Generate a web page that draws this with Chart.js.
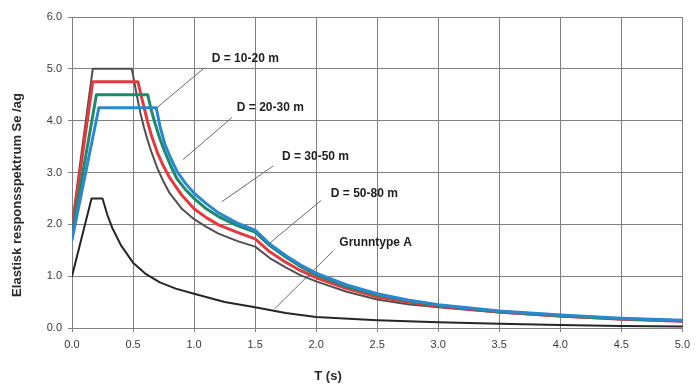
<!DOCTYPE html>
<html>
<head>
<meta charset="utf-8">
<script src="https://cdn.jsdelivr.net/npm/chart.js@4/dist/chart.umd.min.js"></script>
<style>
  html, body { margin: 0; padding: 0; background: #ffffff; }
  #wrap { width: 696px; height: 386px; position: relative; }
</style>
</head>
<body>
<div id="wrap"><canvas id="c" width="696" height="386"></canvas></div>
<script>
// ---- Data (period T in s, spectral value Se/ag) ----
const tBlue   = [0, 0.22, 0.69, 0.72, 0.76, 0.81, 0.86, 0.93, 1.0, 1.1, 1.2, 1.35, 1.5, 1.62, 1.75, 1.87, 2.0, 2.25, 2.5, 2.75, 3.0, 3.5, 4.0, 4.5, 5.0];
const seBlue  = [1.7, 4.25, 4.25, 3.9, 3.55, 3.27, 3.02, 2.79, 2.6, 2.4, 2.22, 2.03, 1.89, 1.62, 1.4, 1.22, 1.06, 0.83, 0.66, 0.54, 0.45, 0.33, 0.25, 0.19, 0.15];

const tGreen  = [0, 0.2, 0.62, 0.65, 0.68, 0.72, 0.76, 0.81, 0.86, 0.93, 1.0, 1.1, 1.2, 1.35, 1.5, 1.62, 1.75, 1.87, 2.0, 2.25, 2.5, 2.75, 3.0, 3.5, 4.0, 4.5, 5.0];
const seGreen = [1.8, 4.5, 4.5, 4.2, 3.95, 3.65, 3.4, 3.12, 2.88, 2.67, 2.5, 2.3, 2.15, 1.98, 1.85, 1.59, 1.37, 1.19, 1.03, 0.8, 0.64, 0.53, 0.44, 0.32, 0.24, 0.18, 0.14];

const tRed    = [0, 0.17, 0.54, 0.565, 0.59, 0.62, 0.65, 0.7, 0.75, 0.8, 0.9, 1.0, 1.1, 1.2, 1.35, 1.5, 1.62, 1.75, 1.87, 2.0, 2.25, 2.5, 2.75, 3.0, 3.5, 4.0, 4.5, 5.0];
const seRed   = [1.9, 4.75, 4.75, 4.5, 4.26, 3.97, 3.72, 3.38, 3.12, 2.9, 2.56, 2.3, 2.13, 1.99, 1.85, 1.72, 1.47, 1.27, 1.11, 0.97, 0.76, 0.6, 0.5, 0.42, 0.31, 0.23, 0.17, 0.13];

const tGray   = [0, 0.17, 0.49, 0.51, 0.53, 0.56, 0.59, 0.62, 0.65, 0.7, 0.75, 0.8, 0.9, 1.0, 1.1, 1.2, 1.35, 1.5, 1.62, 1.75, 1.87, 2.0, 2.25, 2.5, 2.75, 3.0, 3.5, 4.0, 4.5, 5.0];
const seGray  = [2.0, 5.0, 5.0, 4.75, 4.5, 4.15, 3.87, 3.62, 3.4, 3.08, 2.82, 2.6, 2.3, 2.1, 1.95, 1.82, 1.68, 1.57, 1.35, 1.17, 1.02, 0.9, 0.7, 0.55, 0.46, 0.4, 0.3, 0.22, 0.17, 0.13];

const tA      = [0, 0.16, 0.25, 0.29, 0.33, 0.4, 0.5, 0.6, 0.72, 0.85, 1.0, 1.25, 1.5, 1.75, 2.0, 2.5, 3.0, 3.5, 4.0, 4.5, 5.0];
const seA     = [1.0, 2.5, 2.5, 2.18, 1.93, 1.6, 1.26, 1.05, 0.88, 0.76, 0.66, 0.5, 0.4, 0.29, 0.21, 0.15, 0.11, 0.08, 0.06, 0.04, 0.03];

const xTickValues = [0, 0.5, 1, 1.5, 2, 2.5, 3, 3.5, 4, 4.5, 5];
const yTickValues = [0, 1, 2, 3, 4, 5, 6];

const xTitle = 'T (s)';
const yTitle = 'Elastisk responsspektrum Se /ag';

// Annotation labels: text, anchor (T, Se) of text, leader start and end (T, Se)
const labelTexts  = ["D = 10-20 m", "D = 20-30 m", "D = 30-50 m", "D = 50-80 m", "Grunntype A"];
const labelPos    = [[1.145, 5.2], [1.35, 4.26], [1.72, 3.31], [2.12, 2.59], [2.19, 1.64]];
const leaderFrom  = [[1.08, 5.01], [1.31, 4.06], [1.65, 3.13], [2.04, 2.46], [2.14, 1.49]];
const leaderTo    = [[0.69, 4.24], [0.91, 3.25], [1.23, 2.44], [1.61, 1.62], [1.66, 0.37]];

const toXY = (ts, vs) => ts.map((t, i) => ({ x: t, y: vs[i] }));
const FONT = '"Liberation Sans", Arial, sans-serif';

const annot = {
  id: 'annot',
  afterDatasetsDraw(chart) {
    const { ctx, scales: { x, y } } = chart;
    ctx.save();
    ctx.lineWidth = 1;
    ctx.strokeStyle = '#6a6a6a';
    for (let i = 0; i < leaderFrom.length; i++) {
      ctx.beginPath();
      ctx.moveTo(x.getPixelForValue(leaderFrom[i][0]), y.getPixelForValue(leaderFrom[i][1]));
      ctx.lineTo(x.getPixelForValue(leaderTo[i][0]), y.getPixelForValue(leaderTo[i][1]));
      ctx.stroke();
    }
    ctx.fillStyle = '#1e1e1e';
    ctx.font = 'bold 12px ' + FONT;
    ctx.textBaseline = 'middle';
    ctx.textAlign = 'left';
    for (let i = 0; i < labelTexts.length; i++) {
      ctx.fillText(labelTexts[i], x.getPixelForValue(labelPos[i][0]), y.getPixelForValue(labelPos[i][1]));
    }
    // axis titles
    ctx.fillStyle = '#2a2a2a';
    ctx.font = 'bold 13px ' + FONT;
    ctx.textAlign = 'center';
    ctx.fillText(xTitle, 328, 376);
    ctx.translate(17, 195);
    ctx.rotate(-Math.PI / 2);
    ctx.fillText(yTitle, 0, 0);
    ctx.restore();
  }
};

const whiteBg = {
  id: 'whiteBg',
  beforeDraw(chart) {
    const ctx = chart.ctx;
    ctx.save();
    ctx.fillStyle = '#ffffff';
    ctx.fillRect(0, 0, chart.width, chart.height);
    ctx.restore();
  }
};

new Chart(document.getElementById('c'), {
  type: 'line',
  data: {
    datasets: [
      { label: 'D = 50-80 m', data: toXY(tBlue, seBlue), borderColor: '#2a88d0', borderWidth: 3 },
      { label: 'D = 30-50 m', data: toXY(tGreen, seGreen), borderColor: '#1c8a6c', borderWidth: 3 },
      { label: 'D = 20-30 m', data: toXY(tRed, seRed), borderColor: '#e6393f', borderWidth: 3 },
      { label: 'D = 10-20 m', data: toXY(tGray, seGray), borderColor: '#505050', borderWidth: 2 },
      { label: 'Grunntype A', data: toXY(tA, seA), borderColor: '#262626', borderWidth: 2 }
    ]
  },
  options: {
    responsive: false,
    animation: false,
    devicePixelRatio: 1,
    layout: { padding: { top: 17, right: 10, left: 0, bottom: 0 } },
    elements: { point: { radius: 0 }, line: { tension: 0, borderJoinStyle: 'round', borderCapStyle: 'round' } },
    plugins: { legend: { display: false }, tooltip: { enabled: false } },
    scales: {
      x: {
        type: 'linear', min: 0, max: 5,
        afterFit: s => { s.height = 58; },
        afterBuildTicks: s => { s.ticks = xTickValues.map(v => ({ value: v })); },
        ticks: { callback: v => v.toFixed(1), color: '#3a3a3a', font: { size: 11, family: FONT }, padding: 6, maxRotation: 0 },
        grid: { color: '#808080', lineWidth: 1, tickLength: 4 },
        border: { color: '#808080' }
      },
      y: {
        type: 'linear', min: 0, max: 6,
        afterFit: s => { s.width = 72; },
        afterBuildTicks: s => { s.ticks = yTickValues.map(v => ({ value: v })); },
        ticks: { callback: v => v.toFixed(1), color: '#3a3a3a', font: { size: 11, family: FONT }, padding: 6 },
        grid: { color: '#808080', lineWidth: 1, tickLength: 4 },
        border: { color: '#808080' }
      }
    }
  },
  plugins: [whiteBg, annot]
});
</script>
</body>
</html>
